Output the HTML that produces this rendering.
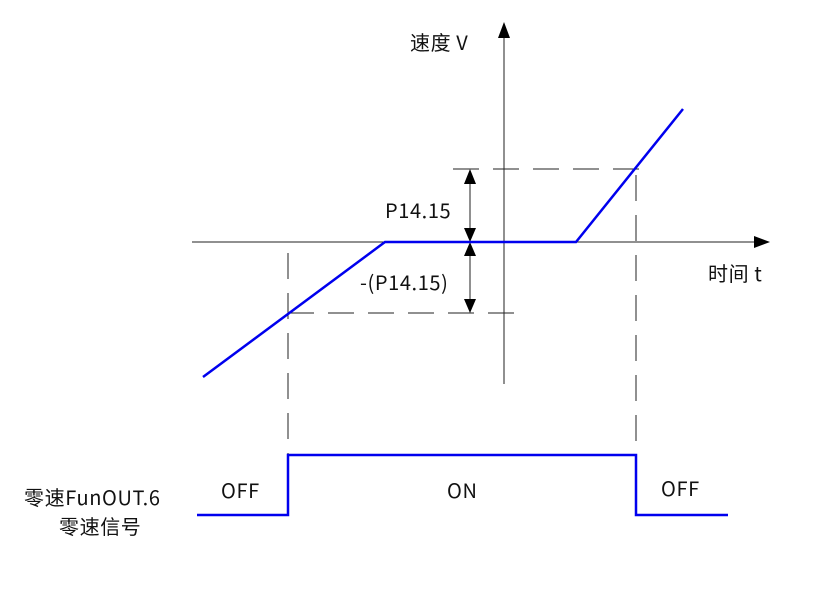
<!DOCTYPE html>
<html><head><meta charset="utf-8"><style>
body{margin:0;background:#fff}
svg text{font-family:"Noto Sans CJK SC","Liberation Sans",sans-serif;font-size:20px;letter-spacing:0.6px;fill:#111}
</style></head><body>
<svg width="836" height="594" xmlns="http://www.w3.org/2000/svg">
<g stroke="#222" stroke-width="1" fill="none">
<line x1="192" y1="242" x2="760" y2="242"/>
<line x1="504" y1="384" x2="504" y2="32"/>
<g stroke-dasharray="26,14">
<line x1="453" y1="169" x2="640" y2="169"/>
<line x1="288" y1="313" x2="524" y2="313"/>
<line x1="288" y1="253" x2="288" y2="455"/>
<line x1="636" y1="175" x2="636" y2="455"/>
</g>
<line x1="470" y1="178" x2="470" y2="234"/>
<line x1="470" y1="250" x2="470" y2="305"/>
</g>
<g fill="#000">
<polygon points="504,22 498,38 510,38"/>
<polygon points="770,242 754,236 754,248"/>
<polygon points="470,169 464,184 476,184"/>
<polygon points="470,242 464,228 476,228"/>
<polygon points="470,242 464,256 476,256"/>
<polygon points="470,313 464,299 476,299"/>
</g>
<polyline points="203,377 385,242 576,242 683,109" stroke="#0000ee" stroke-width="2.5" fill="none"/>
<polyline points="197,515 288,515 288,455 636,455 636,515 728,515" stroke="#0000ee" stroke-width="2.5" fill="none"/>
<text x="410" y="50">速度 V</text>
<text x="708" y="281">时间 t</text>
<text x="385" y="218">P14.15</text>
<text x="360" y="290">-(P14.15)</text>
<text x="221" y="498">OFF</text>
<text x="447" y="498">ON</text>
<text x="661" y="496">OFF</text>
<text x="24" y="505">零速FunOUT.6</text>
<text x="59" y="534">零速信号</text>
</svg>
</body></html>
